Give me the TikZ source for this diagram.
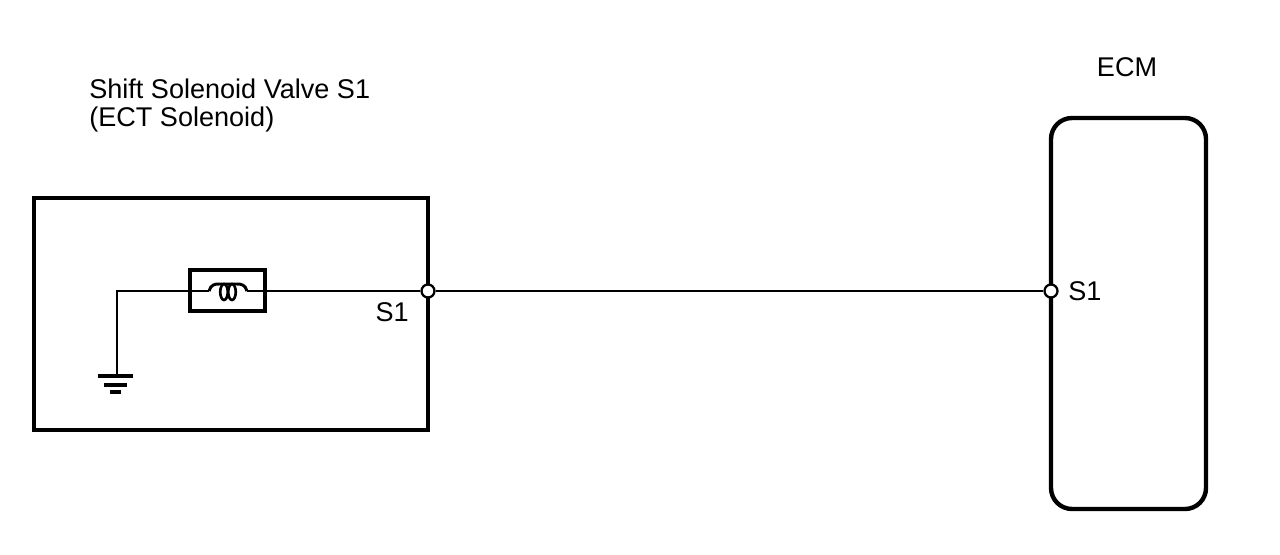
\documentclass[tikz,border=0pt]{standalone}
\usepackage{fontspec}
\setmainfont{Liberation Sans}
\usetikzlibrary{positioning}

\tikzset{
  wire/.style={line width=1.7pt},
  frame/.style={line width=2.5pt},
  term/.style={circle, draw, line width=1.3pt, fill=white, minimum size=0.26cm, inner sep=0pt},
  coilbox/.style={draw, line width=2.4pt, minimum width=1.5cm, minimum height=0.82cm, inner sep=0pt},
  lbl/.style={font=\fontsize{15.4}{18}\selectfont, inner sep=0pt},
}

\begin{document}
\begin{tikzpicture}[x=0.02cm, y=-0.02cm]
  \useasboundingbox (0,0) rectangle (1280,554);

  % labels
  \node[lbl, anchor=base west] (title) at (89,98) {Shift Solenoid Valve S1};
  \node[lbl, anchor=base west] (title2) at (89,126) {(ECT Solenoid)};
  \node[lbl, anchor=base] (ecm) at (1127,77) {ECM};

  % solenoid and ECM outlines
  \draw[frame] (34,198) rectangle (428,430);
  \draw[frame, rounded corners=0.42cm] (1051,118) rectangle (1206,509);

  % coil
  \node[coilbox] (coil) at (227.5,290.5) {};
  \coordinate (coil in) at (209,291);
  \coordinate (coil out) at (247,291);
  \draw[wire] (coil in) .. controls (211,285) and (214,284) .. (219,284) -- (237,284)
    .. controls (242,284) and (245,285) .. (coil out);
  \draw[line width=1.5pt] (224,292) ellipse [x radius=0.075cm, y radius=0.16cm]
                          (232,292) ellipse [x radius=0.075cm, y radius=0.16cm];

  % ground
  \coordinate (gnd) at (117,376);
  \draw[line width=2.3pt] (98,376) -- (133,376);
  \draw[line width=1.8pt] (104,385) -- (127,385);
  \draw[line width=1.8pt] (110,392) -- (121,392);

  % terminals
  \node[term] (sol s1) at (428,291) {};
  \node[term] (ecm s1) at (1051,291) {};
  \node[lbl, anchor=base east] (sol s1 lbl) at (409,321) {S1};
  \node[lbl, anchor=base west] (ecm s1 lbl) at (1068,300) {S1};

  % wiring
  \draw[wire] (gnd) |- (coil in);
  \draw[wire] (coil out) -- (sol s1);
  \draw[wire] (sol s1) -- (ecm s1);
\end{tikzpicture}
\end{document}
